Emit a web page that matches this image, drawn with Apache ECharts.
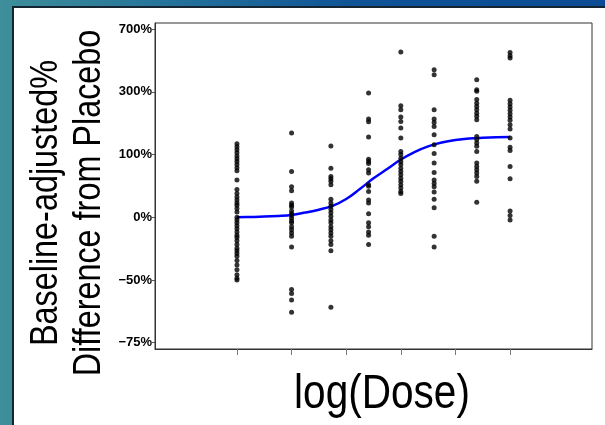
<!DOCTYPE html>
<html>
<head>
<meta charset="utf-8">
<script src="https://cdn.jsdelivr.net/npm/echarts@6/dist/echarts.min.js"></script>
<style>
    body { margin: 0; }
    .frame {
        position: absolute; left: 0; top: 0; width: 605px; height: 425px;
        background: linear-gradient(90deg, #3e8f9a 0%, #23709a 30%, #0f5296 60%, #0b4c95 100%);
    }
    .panel {
        position: absolute; left: 12px; top: 6px; right: 0; bottom: 0;
        background: #fff;
        border-left: 2px solid #142430;
        border-top: 2px solid #142430;
    }
    #chart { position: absolute; left: 0; top: 0; width: 605px; height: 425px; }
</style>
</head>
<body>
<div class="frame"><div class="panel"></div></div>
<div id="chart"></div>
<script>
// log(dose) positions of the dose groups and the axis ticks
var doseLevels = [0, 1, 1.72, 2.41, 3, 3.61, 4.39, 5];
var doseTicks = [0, 1, 2, 3, 4, 5];
// y tick positions as fold of placebo (axis is log2)
var foldTicks = [0.25, 0.5, 1, 2, 4, 8];

// baseline-adjusted % difference from placebo, one array per dose group
var dose1 = [125, 118, 111, 104, 97, 91, 85, 79, 73, 67, 51, 36, 30, 25, 21, 17, 14, 10, 6, 0,
             -3, -6, -9, -12, -15, -18, -20, -23, -26, -29, -31, -33, -35, -38, -41, -44, -47, -49, -50];
var dose2 = [154, 66, 40, 34, 17, 14, 12, 7, 4, 2, -1, -4, -6, -10, -13, -16, -19, -28, -55, -57, -60, -65];
var dose3 = [120, 72, 57, 53, 49, 43, 22, 17, 13, 9, 5, 1, -3, -6, -10, -13, -16, -19, -23, -26, -31, -63];
var dose4 = [295, 196, 187, 143, 90, 85, 81, 69, 63, 43, 41, 33, 21, 17, 4, -6, -10, -15, -18, -26];
var dose5 = [521, 243, 228, 203, 188, 168, 140, 107, 100, 92, 85, 79, 72, 66, 60, 54, 49, 43, 38, 33, 30];
var dose6 = [411, 383, 228, 196, 185, 173, 149, 123, 102, 82, 64, 51, 45, 40, 32, 22, 11, -19, -28];
var dose7 = [357, 309, 302, 267, 253, 240, 228, 216, 205, 194, 144, 136, 127, 119, 107, 82, 75, 69, 63, 57, 49, 18];
var dose8 = [518, 496, 481, 264, 251, 238, 226, 214, 203, 192, 178, 165, 140, 117, 109, 75, 53, 7, 2, -3];

// fitted Emax curve
var curveDose = [0, 0.25, 0.5, 0.75, 1, 1.25, 1.5, 1.75, 2, 2.25, 2.5, 2.75, 3,
                 3.25, 3.5, 3.75, 4, 4.25, 4.5, 4.75, 5];
var curvePct = [0, 0.3, 0.7, 1.4, 2.5, 5.3, 8.7, 13.3, 22.3, 36.6, 53.7, 70.5, 89.2,
                105.6, 118.9, 128.2, 134.6, 138.7, 140.8, 142.2, 142.8];

var groups = [dose1, dose2, dose3, dose4, dose5, dose6, dose7, dose8];
var points = [];
groups.forEach(function (g, i) {
    g.forEach(function (p) { points.push([doseLevels[i], 1 + p / 100]); });
});
var curve = curveDose.map(function (d, i) { return [d, 1 + curvePct[i] / 100]; });

var sans = "'Liberation Sans', Arial, sans-serif";

var chart = echarts.init(document.getElementById('chart'));
var option = {
    animation: false,
    grid: {
        left: 155, right: 13, top: 23, bottom: 76,
        show: true, borderColor: '#333', borderWidth: 1
    },
    xAxis: {
        type: 'value',
        min: -1.5,
        max: 6.5,
        axisLine: { show: true, onZero: false, lineStyle: { color: '#333', width: 1 } },
        axisTick: { show: true, customValues: doseTicks, length: 6, lineStyle: { color: '#777' } },
        axisLabel: { show: false },
        splitLine: { show: false }
    },
    yAxis: {
        type: 'log',
        logBase: 2,
        min: 0.233,
        max: 8.56,
        axisLine: { show: true, onZero: false, lineStyle: { color: '#333', width: 1 } },
        axisTick: { show: true, customValues: foldTicks, length: 3, lineStyle: { color: '#555' } },
        axisLabel: {
            customValues: foldTicks,
            margin: 3,
            color: '#000',
            fontFamily: sans,
            fontWeight: 'bold',
            fontSize: 13,
            padding: [3, 0, 0, 0],
            formatter: function (v) {
                var p = Math.round((v - 1) * 100);
                return (p < 0 ? '\u2212' + (-p) : p) + '%';
            }
        },
        splitLine: { show: false }
    },
    graphic: [
        {
            type: 'text', x: 46, y: 203, rotation: Math.PI / 2, scaleX: 0.83,
            style: { text: 'Baseline-adjusted%', font: '39px ' + sans, fill: '#000',
                     textAlign: 'center', textVerticalAlign: 'middle' }
        },
        {
            type: 'text', x: 89, y: 203, rotation: Math.PI / 2, scaleX: 0.83,
            style: { text: 'Difference from Placebo', font: '39px ' + sans, fill: '#000',
                     textAlign: 'center', textVerticalAlign: 'middle' }
        },
        {
            type: 'text', x: 382, y: 395, scaleX: 0.845,
            style: { text: 'log(Dose)', font: '48px ' + sans, fill: '#000',
                     textAlign: 'center', textVerticalAlign: 'middle' }
        }
    ],
    series: [
        {
            type: 'scatter',
            data: points,
            symbolSize: 5,
            itemStyle: { color: '#000' },
            z: 3
        },
        {
            type: 'line',
            data: curve,
            smooth: 0.4,
            showSymbol: false,
            lineStyle: { color: '#0000ff', width: 2.5 },
            z: 2
        }
    ]
};
chart.setOption(option);
</script>
</body>
</html>
